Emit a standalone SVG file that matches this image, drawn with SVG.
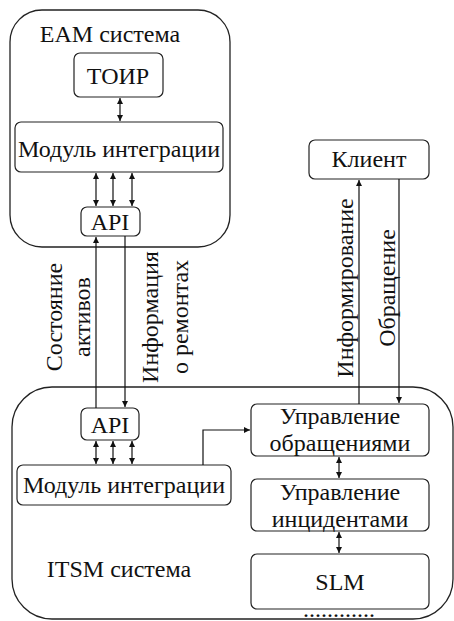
<svg xmlns="http://www.w3.org/2000/svg" width="454" height="621" viewBox="0 0 454 621">
<style>
.c{fill:none;stroke:#222;stroke-width:1.3}
.b{fill:#fff;stroke:#222;stroke-width:1.2}
text{font-family:'Liberation Serif','Times New Roman',serif;font-size:24px;fill:#111;text-anchor:middle}
.l{fill:none;stroke:#111;stroke-width:1.2}
</style>
<defs>
<marker id="ah" viewBox="0 0 10 10" refX="10" refY="5" markerWidth="6" markerHeight="6" orient="auto-start-reverse" markerUnits="userSpaceOnUse">
<path d="M0,0 L10,5 L0,10 z" fill="#111"/>
</marker>
</defs>
<rect width="454" height="621" fill="#fff"/>
<g id="eam">
<rect class="c" x="10" y="10" width="220" height="237" rx="32"/>
<text x="110" y="42" font-size="22">EAM система</text>
</g>
<g id="itsm">
<rect class="c" x="12" y="387" width="441" height="232" rx="40"/>
<text x="119" y="577">ITSM система</text>
</g>
<g id="toir">
<rect class="b" x="74" y="53" width="89" height="44" rx="6"/>
<text x="118" y="84">ТОИР</text>
</g>
<g id="eam-mod">
<rect class="b" x="15" y="122" width="208" height="50" rx="6"/>
<text x="119" y="157">Модуль интеграции</text>
</g>
<g id="eam-api">
<rect class="b" x="81" y="207" width="59" height="29" rx="6"/>
<text x="110" y="230">API</text>
</g>
<g id="client">
<rect class="b" x="309" y="140" width="120" height="39" rx="6"/>
<text x="369" y="167">Клиент</text>
</g>
<g id="itsm-api">
<rect class="b" x="81" y="408" width="58" height="32" rx="6"/>
<text x="110" y="433">API</text>
</g>
<g id="itsm-mod">
<rect class="b" x="17" y="465" width="214" height="40" rx="6"/>
<text x="124" y="493">Модуль интеграции</text>
</g>
<g id="req">
<rect class="b" x="251" y="404" width="178" height="52" rx="6"/>
<text x="340" y="424">Управление</text>
<text x="340" y="451">обращениями</text>
</g>
<g id="inc">
<rect class="b" x="251" y="479" width="178" height="52" rx="6"/>
<text x="340" y="500">Управление</text>
<text x="340" y="527">инцидентами</text>
</g>
<g id="slm">
<rect class="b" x="251" y="554" width="178" height="55" rx="6"/>
<text x="340" y="590">SLM</text>
</g>
<text x="339" y="617" font-size="16">............</text>
<g id="connectors">
<line class="l" x1="120" y1="98" x2="120" y2="121" marker-start="url(#ah)" marker-end="url(#ah)"/>
<line class="l" x1="96" y1="173" x2="96" y2="206" marker-start="url(#ah)" marker-end="url(#ah)"/>
<line class="l" x1="113" y1="173" x2="113" y2="206" marker-start="url(#ah)" marker-end="url(#ah)"/>
<line class="l" x1="132" y1="173" x2="132" y2="206" marker-start="url(#ah)" marker-end="url(#ah)"/>
<line class="l" x1="96" y1="408" x2="96" y2="237" marker-end="url(#ah)"/>
<line class="l" x1="125" y1="236" x2="125" y2="407" marker-end="url(#ah)"/>
<line class="l" x1="96" y1="441" x2="96" y2="464" marker-start="url(#ah)" marker-end="url(#ah)"/>
<line class="l" x1="113" y1="441" x2="113" y2="464" marker-start="url(#ah)" marker-end="url(#ah)"/>
<line class="l" x1="132" y1="441" x2="132" y2="464" marker-start="url(#ah)" marker-end="url(#ah)"/>
<polyline class="l" points="203,465 203,430 250,430" marker-end="url(#ah)"/>
<line class="l" x1="359" y1="404" x2="359" y2="180" marker-end="url(#ah)"/>
<line class="l" x1="399" y1="179" x2="399" y2="403" marker-end="url(#ah)"/>
<line class="l" x1="339" y1="457" x2="339" y2="478" marker-start="url(#ah)" marker-end="url(#ah)"/>
<line class="l" x1="339" y1="532" x2="339" y2="553" marker-start="url(#ah)" marker-end="url(#ah)"/>
</g>
<g id="labels">
<text transform="translate(62,317) rotate(-90)">Состояние</text>
<text transform="translate(90,317) rotate(-90)">активов</text>
<text transform="translate(158,317) rotate(-90)">Информация</text>
<text transform="translate(188,317) rotate(-90)">о ремонтах</text>
<text transform="translate(353,288) rotate(-90)">Информирование</text>
<text transform="translate(395,288) rotate(-90)">Обращение</text>
</g>
</svg>
